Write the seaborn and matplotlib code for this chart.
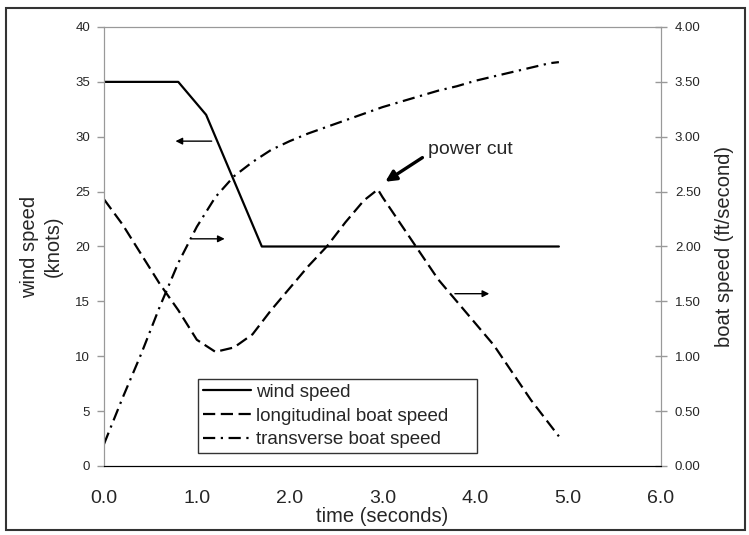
import numpy as np
import pandas as pd
import seaborn as sns
import matplotlib
import matplotlib.pyplot as plt
from matplotlib.patches import Rectangle

# wind speed (knots), left axis
wind_t = [0.0, 0.8, 1.1, 1.7, 4.9]
wind_v = [35, 35, 32, 20, 20]

# longitudinal boat speed (ft/s), right axis
long_t = [0.0, 0.2, 0.4, 0.6, 0.8, 1.0, 1.2, 1.4, 1.6, 1.8, 2.0, 2.2, 2.4, 2.6,
          2.8, 2.95, 3.0, 3.2, 3.4, 3.6, 3.8, 4.0, 4.2, 4.4, 4.6, 4.8, 4.9]
long_v = [2.43, 2.20, 1.93, 1.66, 1.42, 1.15, 1.04, 1.08, 1.20, 1.42, 1.62, 1.82,
          2.00, 2.22, 2.42, 2.52, 2.45, 2.20, 1.95, 1.70, 1.50, 1.30, 1.10, 0.85,
          0.60, 0.38, 0.27]

# transverse boat speed (ft/s), right axis
trans_t = [0.0, 0.2, 0.4, 0.6, 0.8, 1.0, 1.2, 1.4, 1.6, 1.8, 2.0, 2.2, 2.4, 2.6,
           2.8, 3.0, 3.2, 3.4, 3.6, 3.8, 4.0, 4.2, 4.4, 4.6, 4.8, 4.9]
trans_v = [0.20, 0.62, 1.02, 1.45, 1.85, 2.18, 2.45, 2.64, 2.77, 2.88, 2.96, 3.03,
           3.09, 3.15, 3.21, 3.27, 3.32, 3.37, 3.42, 3.46, 3.51, 3.55, 3.59, 3.63,
           3.67, 3.68]

x_ticks = [0, 1, 2, 3, 4, 5, 6]
left_ticks = [0, 5, 10, 15, 20, 25, 30, 35, 40]
right_ticks = [0, 0.5, 1.0, 1.5, 2.0, 2.5, 3.0, 3.5, 4.0]

sns.set_style('white')
plt.rcParams['font.family'] = ['Liberation Sans', 'DejaVu Sans']

fig = plt.figure(figsize=(7.49, 5.35), dpi=100)
ax = fig.add_axes([104/749, 1 - 466/535, (661-104)/749, (466-27)/535])
ax2 = ax.twinx()

wind = pd.DataFrame({'t': wind_t, 'v': wind_v})
lon = pd.DataFrame({'t': long_t, 'v': long_v})
tra = pd.DataFrame({'t': trans_t, 'v': trans_v})

sns.lineplot(data=wind, x='t', y='v', ax=ax, color='black', lw=1.6,
             label='wind speed', legend=False)
sns.lineplot(data=lon, x='t', y='v', ax=ax2, color='black', lw=1.6,
             label='longitudinal boat speed', legend=False)
sns.lineplot(data=tra, x='t', y='v', ax=ax2, color='black', lw=1.6,
             label='transverse boat speed', legend=False)
ax2.lines[0].set_dashes([5.5, 2.5])
ax2.lines[1].set_dashes([5.5, 2.5, 1, 2.5])

ax.set_xlim(0, 6)
ax.set_ylim(0, 40)
ax2.set_ylim(0, 4)
ax.set_xticks(x_ticks)
ax.set_xticklabels([f'{v:.1f}' for v in x_ticks], fontsize=14)
ax.set_yticks(left_ticks)
ax.set_yticklabels([str(v) for v in left_ticks], fontsize=9.5)
ax2.set_yticks(right_ticks)
ax2.set_yticklabels([f'{v:.2f}' for v in right_ticks], fontsize=9.5)

ax.set_xlabel('time (seconds)', fontsize=14.5, labelpad=0)
ax.set_ylabel('wind speed\n(knots)', fontsize=14.5, labelpad=9, linespacing=1.3)
ax2.set_ylabel('boat speed (ft/second)', fontsize=14.5, labelpad=10)

grey = '#999999'
for a in (ax, ax2):
    a.spines['left'].set_color(grey)
    a.spines['top'].set_color(grey)
    a.spines['right'].set_color(grey)
    a.spines['bottom'].set_color('black')
ax.tick_params(axis='x', direction='out', length=6, width=1, color='black', pad=11)
ax.tick_params(axis='y', direction='out', length=5, width=1, color=grey, pad=5)
ax2.tick_params(axis='y', direction='inout', length=8, width=1, color=grey, pad=6)

# pointers telling which axis each curve belongs to
arr = dict(arrowstyle='-|>', color='black', lw=1.0, mutation_scale=10)
ax.annotate('', xy=(0.74, 29.6), xytext=(1.19, 29.6), arrowprops=arr)
ax.annotate('', xy=(1.33, 20.7), xytext=(0.92, 20.7), arrowprops=arr)
ax.annotate('', xy=(4.18, 15.7), xytext=(3.75, 15.7), arrowprops=arr)
ax.annotate('', xy=(3.03, 25.9), xytext=(3.43, 28.1),
            arrowprops=dict(arrowstyle='-|>', color='black', lw=2.4,
                            mutation_scale=16, shrinkA=0, shrinkB=0))
ax.text(3.95, 28.8, 'power cut', fontsize=14, ha='center', va='center')

h1, l1 = ax.get_legend_handles_labels()
h2, l2 = ax2.get_legend_handles_labels()
leg = ax2.legend(h1 + h2, l1 + l2, loc='lower left',
                 bbox_to_anchor=((198-104)/557, (466-453)/439, (477-198)/557, (453-372)/439),
                 mode='expand', fontsize=13.5, frameon=True, fancybox=False,
                 edgecolor='black', handlelength=2.6, handletextpad=0.25,
                 labelspacing=0.35, borderaxespad=0, borderpad=0.25)
leg.get_frame().set_linewidth(1.0)

fig.patches.append(Rectangle((6/749, 1 - 530/535), 739/749, 522/535,
                             transform=fig.transFigure, fill=False,
                             edgecolor='#333333', lw=1.5))

fig.savefig('out.png', dpi=100)
